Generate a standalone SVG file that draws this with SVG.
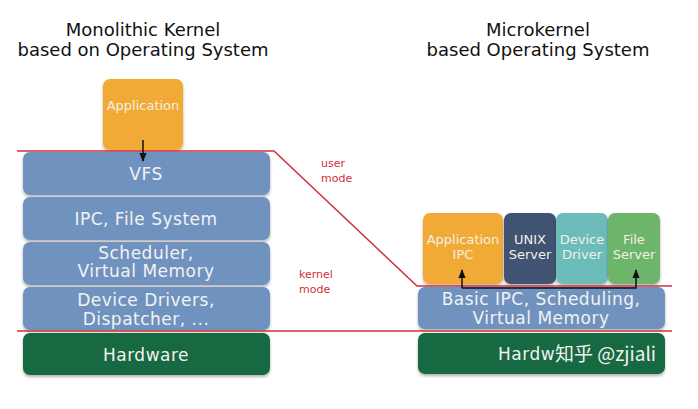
<svg xmlns="http://www.w3.org/2000/svg" width="698" height="409" viewBox="0 0 698 409">
<style>
.title{font-family:"DejaVu Sans",sans-serif;font-size:18px;fill:#111;text-anchor:middle}
.lbl{font-family:"DejaVu Sans",sans-serif;font-size:17px;letter-spacing:0.5px;fill:#f2f2f2;text-anchor:middle}
.sm{font-family:"DejaVu Sans",sans-serif;font-size:13px;fill:#f4f0e6;text-anchor:middle}
.mode{font-family:"DejaVu Sans",sans-serif;font-size:11px;fill:#d0303a}
.blue{fill:#6f92bf}
.green{fill:#17693f}
.orange{fill:#f1aa35}
.wm{font-family:"Noto Sans CJK SC","DejaVu Sans",sans-serif;font-size:19px;fill:#f2f2f2}
</style>
<defs>
<filter id="sh" x="-10%" y="-10%" width="120%" height="130%">
<feDropShadow dx="0" dy="2" stdDeviation="1.5" flood-color="#000" flood-opacity="0.3"/>
</filter>
<marker id="ah" viewBox="0 0 10 10" refX="9" refY="5" markerWidth="6" markerHeight="6" orient="auto">
<path d="M0,1 L10,5 L0,9 z" fill="#111"/>
</marker>
</defs>
<rect width="698" height="409" fill="#fff"/>
<text class="title" x="143" y="36">Monolithic Kernel</text>
<text class="title" x="143" y="56">based on Operating System</text>
<text class="title" x="538" y="36">Microkernel</text>
<text class="title" x="538" y="56">based Operating System</text>

<g id="app-left"><rect class="orange" x="103" y="79" width="80" height="71" rx="7" filter="url(#sh)"/><text class="sm" x="143" y="110">Application</text></g>
<g id="vfs"><rect class="blue" x="23" y="152" width="247" height="43" rx="7" filter="url(#sh)"/><text class="lbl" x="146" y="180">VFS</text></g>
<g id="ipcfs"><rect class="blue" x="23" y="197" width="247" height="43" rx="7" filter="url(#sh)"/><text class="lbl" x="146" y="225">IPC, File System</text></g>
<g id="sched"><rect class="blue" x="23" y="242" width="247" height="43" rx="7" filter="url(#sh)"/><text class="lbl" x="146" y="259">Scheduler,</text><text class="lbl" x="146" y="277">Virtual Memory</text></g>
<g id="drivers"><rect class="blue" x="23" y="287" width="247" height="43" rx="7" filter="url(#sh)"/><text class="lbl" x="146" y="306">Device Drivers,</text><text class="lbl" x="146" y="325">Dispatcher, ...</text></g>
<g id="hw-left"><rect class="green" x="23" y="333" width="247" height="42" rx="7" filter="url(#sh)"/><text class="lbl" x="146" y="361">Hardware</text></g>

<g id="app-ipc"><rect class="orange" x="423" y="213" width="80" height="71" rx="7" filter="url(#sh)"/><text class="sm" x="463" y="244">Application</text><text class="sm" x="463" y="259">IPC</text></g>
<g id="unix"><rect fill="#3f5272" x="504" y="213" width="52" height="71" rx="7" filter="url(#sh)"/><text class="sm" x="530" y="244">UNIX</text><text class="sm" x="530" y="259">Server</text></g>
<g id="devdrv"><rect fill="#6cbcb9" x="556" y="213" width="52" height="71" rx="7" filter="url(#sh)"/><text class="sm" x="582" y="244">Device</text><text class="sm" x="582" y="259">Driver</text></g>
<g id="filesrv"><rect fill="#6db56a" x="608" y="213" width="52" height="71" rx="7" filter="url(#sh)"/><text class="sm" x="634" y="244">File</text><text class="sm" x="634" y="259">Server</text></g>
<g id="basic"><rect class="blue" x="418" y="287" width="247" height="42" rx="7" filter="url(#sh)"/><text class="lbl" x="541" y="305">Basic IPC, Scheduling,</text><text class="lbl" x="541" y="324">Virtual Memory</text></g>
<g id="hw-right"><rect class="green" x="418" y="333" width="247" height="41" rx="7" filter="url(#sh)"/><text class="lbl" x="498" y="360" style="text-anchor:start">Hardw</text><text class="wm" x="555" y="361">知乎 @zjiali</text></g>

<g id="mode-lines" fill="none" stroke="#d0303a" stroke-width="1.5">
<polyline points="17,151 274,151 417,286 672,286"/>
<line x1="17" y1="331" x2="672" y2="331"/>
</g>
<text class="mode" x="321" y="167">user</text>
<text class="mode" x="321" y="182">mode</text>
<text class="mode" x="299" y="278">kernel</text>
<text class="mode" x="299" y="293">mode</text>

<g id="connectors" fill="none" stroke="#111" stroke-width="1.5">
<line x1="143" y1="140" x2="143" y2="161" marker-end="url(#ah)"/>
<polyline points="462,288 462,270" marker-end="url(#ah)"/>
<polyline points="462,288 636,288 636,270" marker-end="url(#ah)"/>
</g>
</svg>
